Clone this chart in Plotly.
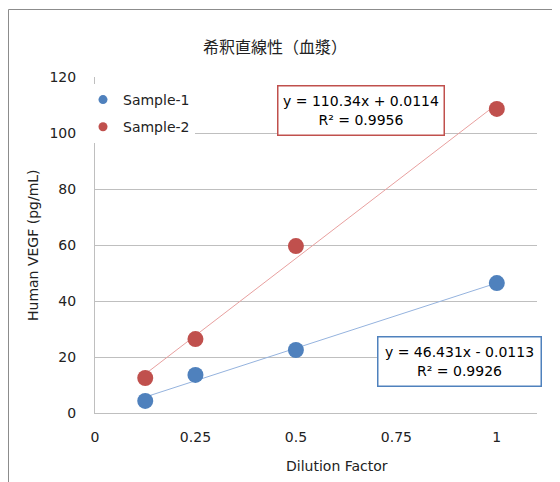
import numpy as np
import plotly.graph_objects as go

# ---- data ----
dilution = [0.125, 0.25, 0.5, 1.0]
sample1 = [4.3, 13.6, 22.5, 46.4]
sample2 = [12.5, 26.4, 59.6, 108.6]
series_names = ["Sample-1", "Sample-2"]
eq_texts = ["y = 46.431x - 0.0113<br>R² = 0.9926",
            "y = 110.34x + 0.0114<br>R² = 0.9956"]
x_tickvals = [0, 0.25, 0.5, 0.75, 1]
x_ticktext = ["0", "0.25", "0.5", "0.75", "1"]
title_text = "希釈直線性（血漿）"
x_title = "Dilution Factor"
y_title = "Human VEGF (pg/mL)"

colors = ["#4F81BD", "#C0504D"]
trend_colors = ["#95B3DE", "#E8A09F"]
FONT = "DejaVu Sans"

# page pixel -> paper helpers (plot area: x 95..537, y 77..413 on the page)
def px(x):
    return (x - 95) / 442

def py(y):
    return (413 - y) / 336

fig = go.Figure()

# linear trendlines fitted from the data
for name, ys, tc in zip(series_names, [sample1, sample2], trend_colors):
    k, b = np.polyfit(dilution, ys, 1)
    xs = np.array([min(dilution), max(dilution)])
    fig.add_trace(go.Scatter(x=xs, y=k * xs + b, mode="lines",
                             line=dict(color=tc, width=1),
                             showlegend=False, hoverinfo="skip"))

# data points
for name, ys, c in zip(series_names, [sample1, sample2], colors):
    fig.add_trace(go.Scatter(x=dilution, y=ys, mode="markers", name=name,
                             legendgroup=name, showlegend=False,
                             marker=dict(color=c, size=16, line=dict(width=0))))

# legend entries (small symbols like the reference)
for name, c in zip(series_names, colors):
    fig.add_trace(go.Scatter(x=[None], y=[None], mode="markers", name=name,
                             legendgroup=name,
                             marker=dict(color=c, size=9, line=dict(width=0))))

# equation boxes
fig.add_annotation(x=0.907, y=18.4, xref="x", yref="y", text=eq_texts[0],
                   showarrow=False, font=dict(family=FONT, size=14, color="#000"),
                   bgcolor="white", bordercolor=colors[0], borderwidth=1.5,
                   borderpad=3, width=156, height=42, align="center")
fig.add_annotation(x=0.661, y=108.2, xref="x", yref="y", text=eq_texts[1],
                   showarrow=False, font=dict(family=FONT, size=14, color="#000"),
                   bgcolor="white", bordercolor=colors[1], borderwidth=1.5,
                   borderpad=3, width=159, height=42, align="center")

# titles
fig.add_annotation(x=px(275), y=py(46), xref="paper", yref="paper",
                   xanchor="center", yanchor="middle",
                   text=title_text, showarrow=False,
                   font=dict(family="Noto Sans CJK JP", size=16, color="#222"))
fig.add_annotation(x=px(337), y=py(466), xref="paper", yref="paper",
                   xanchor="center", yanchor="middle",
                   text=x_title, showarrow=False,
                   font=dict(family=FONT, size=14, color="#222"))
fig.add_annotation(x=px(33), y=py(245), xref="paper", yref="paper",
                   xanchor="center", yanchor="middle",
                   text=y_title, showarrow=False, textangle=-90,
                   font=dict(family=FONT, size=14, color="#222"))

# outer chart frame
fig.add_shape(type="rect", xref="paper", yref="paper",
              x0=px(8.5), x1=1.3, y0=-0.5, y1=py(9.5),
              line=dict(color="#8C8C8C", width=1), fillcolor="rgba(0,0,0,0)",
              layer="below")

fig.update_layout(
    width=552, height=474,
    margin=dict(l=87, r=23, t=69, b=69),
    paper_bgcolor="white", plot_bgcolor="white",
    font=dict(family=FONT, size=14, color="#222"),
    showlegend=True,
    legend=dict(x=px(83), y=py(84), xanchor="left", yanchor="top",
                bgcolor="white", borderwidth=0, traceorder="grouped",
                tracegroupgap=6, itemwidth=30,
                font=dict(family=FONT, size=14, color="#222")),
    xaxis=dict(range=[0, 1.1], tickvals=x_tickvals, ticktext=x_ticktext,
               showgrid=False, zeroline=False, showline=True,
               linecolor="#BFBFBF", linewidth=1, ticks="", ticklabelstandoff=11,
               fixedrange=True),
    yaxis=dict(range=[0, 120], dtick=20, showgrid=True, gridcolor="#BFBFBF",
               gridwidth=1, zeroline=False, showline=True, linecolor="#BFBFBF",
               linewidth=1, ticks="", ticklabelstandoff=15, fixedrange=True),
)

fig.write_html("out.html")
